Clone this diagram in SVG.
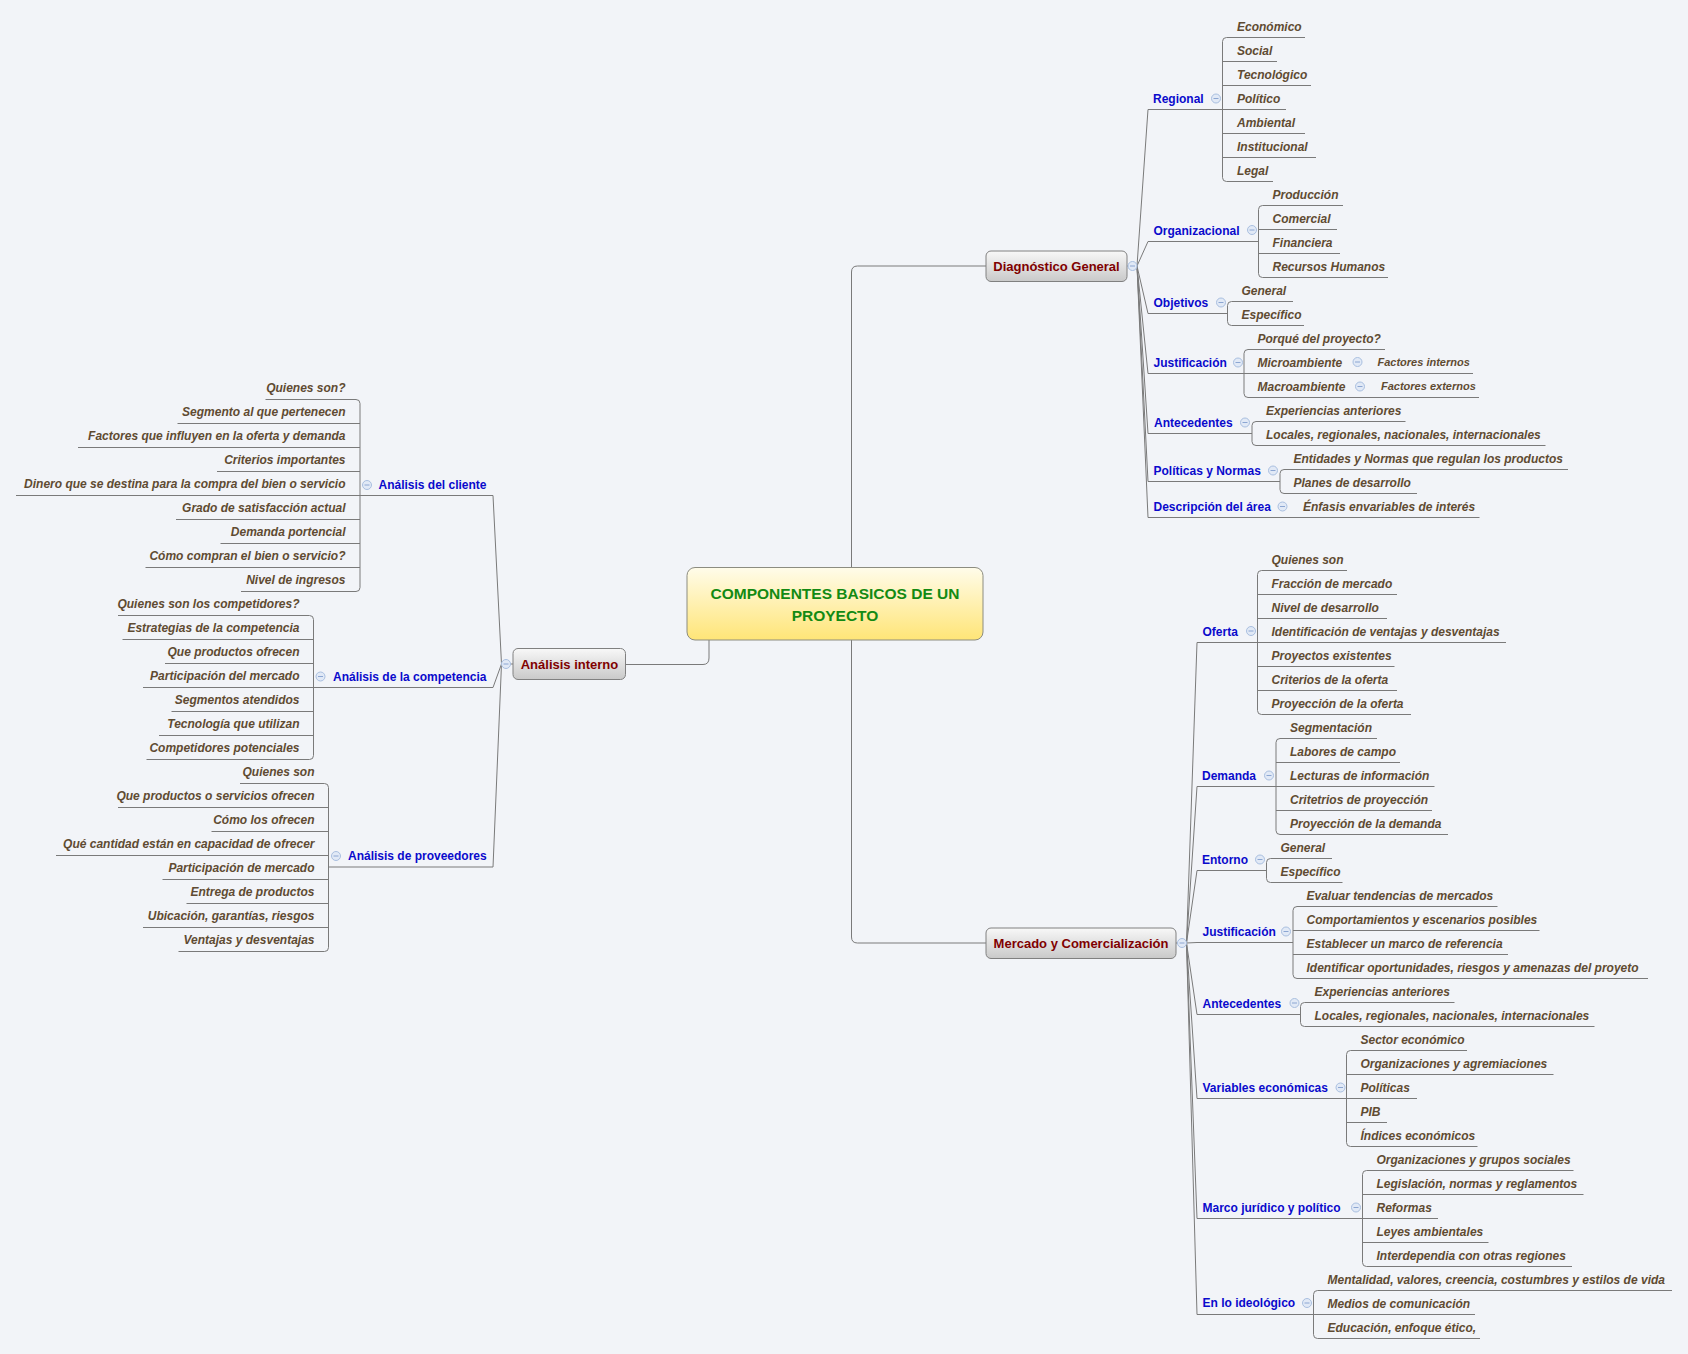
<svg xmlns="http://www.w3.org/2000/svg" width="1688" height="1354" viewBox="0 0 1688 1354">
<defs>
<linearGradient id="gc" x1="0" y1="0" x2="0" y2="1"><stop offset="0" stop-color="#fffcea"/><stop offset="1" stop-color="#ffe577"/></linearGradient>
<linearGradient id="gm" x1="0" y1="0" x2="0" y2="1"><stop offset="0" stop-color="#f8f8f8"/><stop offset="1" stop-color="#c9c9c9"/></linearGradient>
<g id="cb"><circle r="4.5" fill="#e1e9f6" stroke="#a9bfe0" stroke-width="1"/><path d="M-2.5,0H2.5" stroke="#8ca6d2" stroke-width="1"/></g>
<style>
.lf{font-family:"Liberation Sans",Arial,sans-serif;font-size:12px;font-weight:bold;font-style:italic;fill:#5f4b32}
.sm{font-size:11px}
.sb{font-family:"Liberation Sans",Arial,sans-serif;font-size:12px;font-weight:bold;fill:#0a0acc}
.mt{font-family:"Liberation Sans",Arial,sans-serif;font-size:13px;font-weight:bold;fill:#800000;text-anchor:middle}
.ct{font-family:"Liberation Sans",Arial,sans-serif;font-size:15.5px;font-weight:bold;fill:#138a13;text-anchor:middle}
.ln{fill:none;stroke:#7a7a7a;stroke-width:1}
.box{fill:url(#gm);stroke:#808080;stroke-width:1}
.r{text-anchor:end}
</style>
</defs>
<rect width="1688" height="1354" fill="#f2f4f8"/>

<g id="connectors" class="ln">
<path d="M709,640 V658 Q709,664.5 703,664.5 H625.5"/>
<path d="M851.5,567.5 V272 Q851.5,266 857.5,266 H986"/>
<path d="M851.5,640 V937 Q851.5,943 857.5,943 H986"/>
<path d="M1127,266 H1128 M1176,943 H1177.5 M513,664 H510.5"/>
<!-- Diagnostico fan -->
<path d="M1137,266 L1148,109.5 H1222.5 M1137,266 L1148,241.5 H1258.5 M1137,266 L1148,313.5 H1227.5 M1137,266 L1148,373.5 H1244 M1137,266 L1148,433.5 H1252 M1137,266 L1148,481.5 H1280 M1137,266 L1148,517.5 H1479.5"/>
<path d="M1226.5,37.5 Q1222.5,37.5 1222.5,41.5 V177.5 Q1222.5,181.5 1226.5,181.5 M1226.5,37.5 H1305 M1222.5,61.5 H1277 M1222.5,85.5 H1311 M1222.5,109.5 H1286 M1222.5,133.5 H1305 M1222.5,157.5 H1316 M1226.5,181.5 H1273"/>
<path d="M1262.5,205.5 Q1258.5,205.5 1258.5,209.5 V273.5 Q1258.5,277.5 1262.5,277.5 M1262.5,205.5 H1343 M1258.5,229.5 H1337 M1258.5,253.5 H1340 M1262.5,277.5 H1388"/>
<path d="M1231.5,301.5 Q1227.5,301.5 1227.5,305.5 V321.5 Q1227.5,325.5 1231.5,325.5 M1231.5,301.5 H1293 M1231.5,325.5 H1304"/>
<path d="M1248,349.5 Q1244,349.5 1244,353.5 V393.5 Q1244,397.5 1248,397.5 M1248,349.5 H1385 M1244,373.5 H1473 M1248,397.5 H1479"/>
<path d="M1256,421.5 Q1252,421.5 1252,425.5 V441.5 Q1252,445.5 1256,445.5 M1256,421.5 H1405.5 M1256,445.5 H1545.5"/>
<path d="M1284,469.5 Q1280,469.5 1280,473.5 V489.5 Q1280,493.5 1284,493.5 M1284,469.5 H1568 M1284,493.5 H1417"/>
<!-- Mercado fan -->
<path d="M1186.5,943 L1197,642.5 H1257.5 M1186.5,943 L1197,786.5 H1276 M1186.5,943 L1197,870.5 H1266.5 M1186.5,943 L1197,942.5 H1293 M1186.5,943 L1197,1014.5 H1300.5 M1186.5,943 L1197,1098.5 H1346.5 M1186.5,943 L1197,1218.5 H1362.5 M1186.5,943 L1197,1314.5 H1313.5"/>
<path d="M1261.5,570.5 Q1257.5,570.5 1257.5,574.5 V710.5 Q1257.5,714.5 1261.5,714.5 M1261.5,570.5 H1347 M1257.5,594.5 H1397 M1257.5,618.5 H1387 M1257.5,642.5 H1506 M1257.5,666.5 H1394.5 M1257.5,690.5 H1397 M1261.5,714.5 H1411"/>
<path d="M1280,738.5 Q1276,738.5 1276,742.5 V830.5 Q1276,834.5 1280,834.5 M1280,738.5 H1377 M1276,762.5 H1400 M1276,786.5 H1434.5 M1276,810.5 H1432 M1280,834.5 H1448"/>
<path d="M1270.5,858.5 Q1266.5,858.5 1266.5,862.5 V878.5 Q1266.5,882.5 1270.5,882.5 M1270.5,858.5 H1332 M1270.5,882.5 H1342.5"/>
<path d="M1297,906.5 Q1293,906.5 1293,910.5 V974.5 Q1293,978.5 1297,978.5 M1297,906.5 H1497.5 M1293,930.5 H1539.5 M1293,954.5 H1508 M1297,978.5 H1648"/>
<path d="M1304.5,1002.5 Q1300.5,1002.5 1300.5,1006.5 V1022.5 Q1300.5,1026.5 1304.5,1026.5 M1304.5,1002.5 H1454.5 M1304.5,1026.5 H1594.5"/>
<path d="M1350.5,1050.5 Q1346.5,1050.5 1346.5,1054.5 V1142.5 Q1346.5,1146.5 1350.5,1146.5 M1350.5,1050.5 H1467 M1346.5,1074.5 H1553.5 M1346.5,1098.5 H1417 M1346.5,1122.5 H1387 M1350.5,1146.5 H1477.5"/>
<path d="M1366.5,1170.5 Q1362.5,1170.5 1362.5,1174.5 V1262.5 Q1362.5,1266.5 1366.5,1266.5 M1366.5,1170.5 H1573.5 M1362.5,1194.5 H1583.5 M1362.5,1218.5 H1438 M1362.5,1242.5 H1488.5 M1366.5,1266.5 H1572"/>
<path d="M1317.5,1290.5 Q1313.5,1290.5 1313.5,1294.5 V1334.5 Q1313.5,1338.5 1317.5,1338.5 M1317.5,1290.5 H1672 M1313.5,1314.5 H1475 M1317.5,1338.5 H1480"/>
<!-- Analisis interno fan -->
<path d="M501.5,664 L493,495.5 H360 M501.5,664 L493,687.5 H313.5 M501.5,664 L493,867 H328.5"/>
<path d="M356,399.5 Q360,399.5 360,403.5 V587.5 Q360,591.5 356,591.5 M356,399.5 H265.5 M360,423.5 H177.5 M360,447.5 H78 M360,471.5 H217 M360,495.5 H16 M360,519.5 H176 M360,543.5 H220.5 M360,567.5 H145.5 M356,591.5 H241"/>
<path d="M309.5,615.5 Q313.5,615.5 313.5,619.5 V755.5 Q313.5,759.5 309.5,759.5 M309.5,615.5 H118 M313.5,639.5 H122.5 M313.5,663.5 H165 M313.5,687.5 H143 M313.5,711.5 H171.5 M313.5,735.5 H159 M309.5,759.5 H146.5"/>
<path d="M324.5,783.5 Q328.5,783.5 328.5,787.5 V947.5 Q328.5,951.5 324.5,951.5 M324.5,783.5 H240 M328.5,807.5 H118 M328.5,831.5 H211.5 M328.5,855.5 H56 M328.5,879.5 H162.5 M328.5,903.5 H186.5 M328.5,927.5 H143 M324.5,951.5 H178.5"/>
</g>

<g id="central">
<rect x="687" y="567.5" width="296" height="72.5" rx="8" fill="url(#gc)" stroke="#8c8c80"/>
<text class="ct" x="835" y="598.5">COMPONENTES BASICOS DE UN</text>
<text class="ct" x="835" y="621">PROYECTO</text>
</g>

<g id="diagnostico-general">
<rect class="box" x="986" y="251" width="141" height="30.5" rx="5"/>
<text class="mt" x="1056.5" y="270.5">Diagnóstico General</text>
<use href="#cb" x="1132.5" y="266"/>
</g>
<g id="mercado">
<rect class="box" x="986" y="928" width="190" height="30.5" rx="5"/>
<text class="mt" x="1081" y="947.5">Mercado y Comercialización</text>
<use href="#cb" x="1182" y="943"/>
</g>
<g id="analisis-interno">
<rect class="box" x="513" y="648.5" width="112.5" height="31" rx="5"/>
<text class="mt" x="569.5" y="669">Análisis interno</text>
<use href="#cb" x="506" y="664"/>
</g>

<!-- Diagnostico subtopics -->
<g id="regional"><text class="sb" x="1153" y="102.5">Regional</text><use href="#cb" x="1216" y="98.5"/></g>
<g id="regional-items" class="lf">
<text x="1237" y="30.5">Económico</text>
<text x="1237" y="54.5">Social</text>
<text x="1237" y="78.5">Tecnológico</text>
<text x="1237" y="102.5">Político</text>
<text x="1237" y="126.5">Ambiental</text>
<text x="1237" y="150.5">Institucional</text>
<text x="1237" y="174.5">Legal</text>
</g>
<g id="organizacional"><text class="sb" x="1153.5" y="234.5">Organizacional</text><use href="#cb" x="1252" y="230"/></g>
<g id="organizacional-items" class="lf">
<text x="1272.5" y="198.5">Producción</text>
<text x="1272.5" y="222.5">Comercial</text>
<text x="1272.5" y="246.5">Financiera</text>
<text x="1272.5" y="270.5">Recursos Humanos</text>
</g>
<g id="objetivos"><text class="sb" x="1153.5" y="306.5">Objetivos</text><use href="#cb" x="1221" y="302.5"/></g>
<g id="objetivos-items" class="lf">
<text x="1241.5" y="294.5">General</text>
<text x="1241.5" y="318.5">Específico</text>
</g>
<g id="justificacion-d"><text class="sb" x="1153.5" y="366.5">Justificación</text><use href="#cb" x="1238" y="362.5"/></g>
<g id="justificacion-d-items" class="lf">
<text x="1257.5" y="342.5">Porqué del proyecto?</text>
<g id="microambiente"><text x="1257.5" y="366.5">Microambiente</text><use href="#cb" x="1357.5" y="362"/></g>
<g id="macroambiente"><text x="1257.5" y="390.5">Macroambiente</text><use href="#cb" x="1360" y="386.5"/></g>
<text class="sm" x="1377.5" y="366">Factores internos</text>
<text class="sm" x="1381" y="390">Factores externos</text>
</g>
<g id="antecedentes-d"><text class="sb" x="1154" y="426.5">Antecedentes</text><use href="#cb" x="1245" y="422.5"/></g>
<g id="antecedentes-d-items" class="lf">
<text x="1266" y="414.5">Experiencias anteriores</text>
<text x="1266" y="438.5">Locales, regionales, nacionales, internacionales</text>
</g>
<g id="politicas"><text class="sb" x="1153.5" y="474.5">Políticas y Normas</text><use href="#cb" x="1273" y="470.5"/></g>
<g id="politicas-items" class="lf">
<text x="1293.5" y="462.5">Entidades y Normas que regulan los productos</text>
<text x="1293.5" y="486.5">Planes de desarrollo</text>
</g>
<g id="descripcion"><text class="sb" x="1153.5" y="510.5">Descripción del área</text><use href="#cb" x="1282.5" y="506.5"/></g>
<g id="descripcion-items" class="lf">
<text x="1303" y="510.5">Énfasis envariables de interés</text>
</g>

<!-- Mercado subtopics -->
<g id="oferta"><text class="sb" x="1202.5" y="635.5">Oferta</text><use href="#cb" x="1251" y="631"/></g>
<g id="oferta-items" class="lf">
<text x="1271.5" y="563.5">Quienes son</text>
<text x="1271.5" y="587.5">Fracción de mercado</text>
<text x="1271.5" y="611.5">Nivel de desarrollo</text>
<text x="1271.5" y="635.5">Identificación de ventajas y desventajas</text>
<text x="1271.5" y="659.5">Proyectos existentes</text>
<text x="1271.5" y="683.5">Criterios de la oferta</text>
<text x="1271.5" y="707.5">Proyección de la oferta</text>
</g>
<g id="demanda"><text class="sb" x="1202" y="779.5">Demanda</text><use href="#cb" x="1269" y="775.5"/></g>
<g id="demanda-items" class="lf">
<text x="1290" y="731.5">Segmentación</text>
<text x="1290" y="755.5">Labores de campo</text>
<text x="1290" y="779.5">Lecturas de información</text>
<text x="1290" y="803.5">Critetrios de proyección</text>
<text x="1290" y="827.5">Proyección de la demanda</text>
</g>
<g id="entorno"><text class="sb" x="1202" y="863.5">Entorno</text><use href="#cb" x="1260" y="859.5"/></g>
<g id="entorno-items" class="lf">
<text x="1280.5" y="851.5">General</text>
<text x="1280.5" y="875.5">Específico</text>
</g>
<g id="justificacion-m"><text class="sb" x="1202.5" y="935.5">Justificación</text><use href="#cb" x="1286" y="931.5"/></g>
<g id="justificacion-m-items" class="lf">
<text x="1306.5" y="899.5">Evaluar tendencias de mercados</text>
<text x="1306.5" y="923.5">Comportamientos y escenarios posibles</text>
<text x="1306.5" y="947.5">Establecer un marco de referencia</text>
<text x="1306.5" y="971.5">Identificar oportunidades, riesgos y amenazas del proyeto</text>
</g>
<g id="antecedentes-m"><text class="sb" x="1202.5" y="1007.5">Antecedentes</text><use href="#cb" x="1294.5" y="1003"/></g>
<g id="antecedentes-m-items" class="lf">
<text x="1314.5" y="995.5">Experiencias anteriores</text>
<text x="1314.5" y="1019.5">Locales, regionales, nacionales, internacionales</text>
</g>
<g id="variables"><text class="sb" x="1202.5" y="1091.5">Variables económicas</text><use href="#cb" x="1340.5" y="1087.5"/></g>
<g id="variables-items" class="lf">
<text x="1360.5" y="1043.5">Sector económico</text>
<text x="1360.5" y="1067.5">Organizaciones y agremiaciones</text>
<text x="1360.5" y="1091.5">Políticas</text>
<text x="1360.5" y="1115.5">PIB</text>
<text x="1360.5" y="1139.5">Índices económicos</text>
</g>
<g id="marco"><text class="sb" x="1202.5" y="1211.5">Marco jurídico y político</text><use href="#cb" x="1356" y="1207.5"/></g>
<g id="marco-items" class="lf">
<text x="1376.5" y="1163.5">Organizaciones y grupos sociales</text>
<text x="1376.5" y="1187.5">Legislación, normas y reglamentos</text>
<text x="1376.5" y="1211.5">Reformas</text>
<text x="1376.5" y="1235.5">Leyes ambientales</text>
<text x="1376.5" y="1259.5">Interdependia con otras regiones</text>
</g>
<g id="ideologico"><text class="sb" x="1202.5" y="1307">En lo ideológico</text><use href="#cb" x="1307" y="1303"/></g>
<g id="ideologico-items" class="lf">
<text x="1327.5" y="1283.5">Mentalidad, valores, creencia, costumbres y estilos de vida</text>
<text x="1327.5" y="1307.5">Medios de comunicación</text>
<text x="1327.5" y="1331.5">Educación, enfoque ético,</text>
</g>

<!-- Analisis interno subtopics -->
<g id="cliente"><text class="sb" x="378.5" y="488.5">Análisis del cliente</text><use href="#cb" x="367" y="485"/></g>
<g id="cliente-items" class="lf r">
<text x="345.5" y="392">Quienes son?</text>
<text x="345.5" y="416">Segmento al que pertenecen</text>
<text x="345.5" y="440">Factores que influyen en la oferta y demanda</text>
<text x="345.5" y="464">Criterios importantes</text>
<text x="345.5" y="488">Dinero que se destina para la compra del bien o servicio</text>
<text x="345.5" y="512">Grado de satisfacción actual</text>
<text x="345.5" y="536">Demanda portencial</text>
<text x="345.5" y="560">Cómo compran el bien o servicio?</text>
<text x="345.5" y="584">Nivel de ingresos</text>
</g>
<g id="competencia"><text class="sb" x="333" y="680.5">Análisis de la competencia</text><use href="#cb" x="320.5" y="676.5"/></g>
<g id="competencia-items" class="lf r">
<text x="299.5" y="608">Quienes son los competidores?</text>
<text x="299.5" y="632">Estrategias de la competencia</text>
<text x="299.5" y="656">Que productos ofrecen</text>
<text x="299.5" y="680">Participación del mercado</text>
<text x="299.5" y="704">Segmentos atendidos</text>
<text x="299.5" y="728">Tecnología que utilizan</text>
<text x="299.5" y="752">Competidores potenciales</text>
</g>
<g id="proveedores"><text class="sb" x="348" y="860">Análisis de proveedores</text><use href="#cb" x="336" y="856"/></g>
<g id="proveedores-items" class="lf r">
<text x="314.5" y="776">Quienes son</text>
<text x="314.5" y="800">Que productos o servicios ofrecen</text>
<text x="314.5" y="824">Cómo los ofrecen</text>
<text x="314.5" y="848">Qué cantidad están en capacidad de ofrecer</text>
<text x="314.5" y="872">Participación de mercado</text>
<text x="314.5" y="896">Entrega de productos</text>
<text x="314.5" y="920">Ubicación, garantías, riesgos</text>
<text x="314.5" y="944">Ventajas y desventajas</text>
</g>
</svg>
